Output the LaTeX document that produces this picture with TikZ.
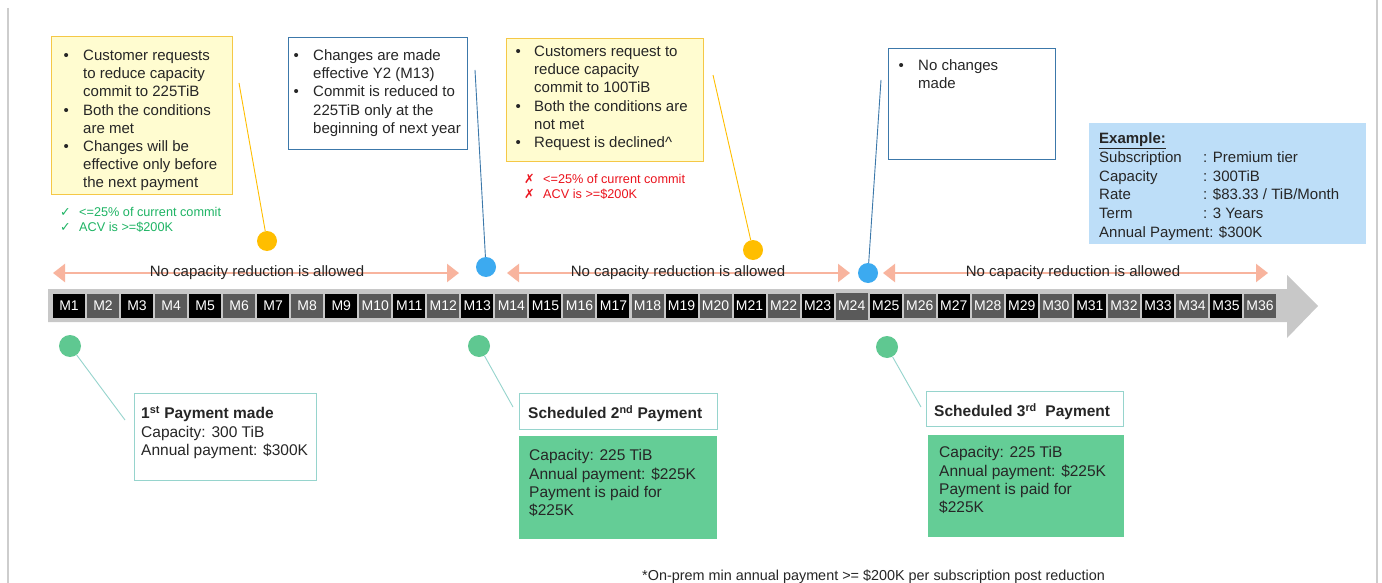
\documentclass[tikz,border=0pt]{standalone}
\usepackage{fontspec}
\setmainfont{Liberation Sans}
\newfontfamily\symfont{DejaVu Sans}
\usepackage{xcolor}
\usetikzlibrary{positioning,arrows.meta}

\definecolor{notefill}{RGB}{255,252,208}
\definecolor{notedraw}{RGB}{245,200,70}
\definecolor{bluedraw}{RGB}{60,120,170}
\definecolor{exfill}{RGB}{189,222,248}
\definecolor{dotorange}{RGB}{255,190,0}
\definecolor{dotblue}{RGB}{60,170,240}
\definecolor{dotgreen}{RGB}{95,200,145}
\definecolor{payfill}{RGB}{100,205,150}
\definecolor{paydraw}{RGB}{150,212,205}
\definecolor{salmon}{RGB}{248,180,158}
\definecolor{band}{RGB}{200,200,200}
\definecolor{mgray}{RGB}{90,90,90}
\definecolor{okgreen}{RGB}{30,180,100}
\definecolor{nored}{RGB}{235,20,30}
\definecolor{edge}{RGB}{205,205,205}

\begin{document}
\begin{tikzpicture}[x=1pt,y=-1pt,
  box/.style={anchor=north west,inner sep=0pt,line width=0.9pt},
  txt/.style={anchor=base west,inner sep=0pt,text=black!85,
              font=\fontsize{15}{18.2}\selectfont},
  paytxt/.style={txt,font=\fontsize{15.5}{18.3}\selectfont},
  small/.style={anchor=base west,inner sep=0pt,font=\fontsize{12.7}{15}\selectfont},
  lbl/.style={inner sep=0pt,text=black!85,font=\fontsize{15}{18}\selectfont},
  dot/.style={circle,inner sep=0pt,minimum size=20pt},
  month/.style={inner sep=0pt,minimum width=32pt,text=white,
                font=\fontsize{14}{14}\selectfont},
  span/.style={{Triangle[length=12pt,width=18pt]}-{Triangle[length=12pt,width=18pt]},
               salmon,line width=2.2pt},
  lead/.style={line width=0.9pt}]
  \fill[white] (0,0) rectangle (1382,583);
  \useasboundingbox (0,0) rectangle (1382,583);
  \draw[edge,line width=1.5pt] (8,8) -- (8,583);
  \draw[edge,line width=1.5pt] (1377,0) -- (1377,583);

  % timeline
  \fill[band] (48,289) -- (1287,289) -- (1287,275) -- (1318,306)
              -- (1287,338) -- (1287,322) -- (48,322) -- cycle;
  \foreach \m in {1,...,36}{
    \pgfmathsetmacro\mx{69+(\m-1)*34.03}
    \pgfmathtruncatemacro\odd{mod(\m,2)}
    \ifnum\odd=1 \def\mc{black}\else\def\mc{mgray}\fi
    \ifnum\m=24 \def\mh{27pt}\else\def\mh{24pt}\fi
    \node[month,fill=\mc,minimum height=\mh] (m\m) at (\mx,306) {M\m};
  }

  % no reduction spans
  \coordinate (s1a) at (53,273);  \coordinate (s1b) at (459,273);
  \coordinate (s2a) at (507,273); \coordinate (s2b) at (850,273);
  \coordinate (s3a) at (883,273); \coordinate (s3b) at (1268,273);
  \draw[span] (s1a) -- (s1b);
  \draw[span] (s2a) -- (s2b);
  \draw[span] (s3a) -- (s3b);
  \node[lbl] (s1t) at (257,273) {No capacity reduction is allowed};
  \node[lbl] (s2t) at (678,273) {No capacity reduction is allowed};
  \node[lbl] (s3t) at (1073,273) {No capacity reduction is allowed};

  % top notes
  \node[box,draw=notedraw,fill=notefill,minimum width=181pt,minimum height=158pt] (req1) at (51,36) {};
  \node[txt] (req1t) at (63.5,60.5) {\begin{tabular}[t]{@{}p{19.5pt}@{}l@{}}
    \textbullet & Customer requests\\ & to reduce capacity\\ & commit to 225TiB\\
    \textbullet & Both the conditions\\ & are met\\
    \textbullet & Changes will be\\ & effective only before\\ & the next payment\end{tabular}};
  \node[small,text=okgreen] (ok1) at (60,216.5) {\begin{tabular}[t]{@{}p{19pt}@{}l@{}}
    {\symfont ✓} & <=25\% of current commit\\ {\symfont ✓} & ACV is >=\$200K\end{tabular}};

  \node[box,draw=bluedraw,minimum width=179pt,minimum height=112pt] (eff2) at (288,37) {};
  \node[txt] (eff2t) at (293.4,60.5) {\begin{tabular}[t]{@{}p{19.6pt}@{}l@{}}
    \textbullet & Changes are made\\ & effective Y2 (M13)\\
    \textbullet & Commit is reduced to\\ & 225TiB only at the\\ & beginning of next year\end{tabular}};

  \node[box,draw=notedraw,fill=notefill,minimum width=197pt,minimum height=123pt] (req3) at (506,38) {};
  \node[txt] (req3t) at (515.4,56.5) {\begin{tabular}[t]{@{}p{18.6pt}@{}l@{}}
    \textbullet & Customers request to\\ & reduce capacity\\ & commit to 100TiB\\
    \textbullet & Both the conditions are\\ & not met\\
    \textbullet & Request is declined\^{}\end{tabular}};
  \node[small,text=nored] (no3) at (524,183.6) {\begin{tabular}[t]{@{}p{19pt}@{}l@{}}
    {\symfont ✗} & <=25\% of current commit\\ {\symfont ✗} & ACV is >=\$200K\end{tabular}};

  \node[box,draw=bluedraw,minimum width=167pt,minimum height=111pt] (none4) at (888,48) {};
  \node[txt] (none4t) at (898.4,70.5) {\begin{tabular}[t]{@{}p{19.6pt}@{}l@{}}
    \textbullet & No changes\\ & made\end{tabular}};

  \node[box,fill=exfill,minimum width=277pt,minimum height=121pt] (ex) at (1089,123) {};
  \node[txt,font=\fontsize{15}{18.8}\selectfont] (ext) at (1099,143.5) {\begin{tabular}[t]{@{}p{104pt}@{}l@{}}
    \multicolumn{2}{@{}l@{}}{\textbf{\underline{Example:}}}\\
    Subscription & : Premium tier\\ Capacity & : 300TiB\\
    Rate & : \$83.33 / TiB/Month\\ Term & : 3 Years\\
    \multicolumn{2}{@{}l@{}}{Annual Payment: \$300K}\end{tabular}};

  % dots above the timeline
  \node[dot,fill=dotorange] (o1) at (267,241) {};
  \node[dot,fill=dotblue] (b2) at (486,267) {};
  \node[dot,fill=dotorange] (o3) at (753,250) {};
  \node[dot,fill=dotblue] (b4) at (868,273) {};
  \coordinate (o1e) at (239,83);
  \coordinate (b2e) at (475,70);
  \coordinate (o3e) at (713,75);
  \coordinate (b4e) at (881,80);
  \draw[lead,dotorange] (o1) -- (o1e);
  \draw[lead,bluedraw] (b2) -- (b2e);
  \draw[lead,dotorange] (o3) -- (o3e);
  \draw[lead,bluedraw] (b4) -- (b4e);

  % payments
  \node[dot,fill=dotgreen,minimum height=22pt] (g1) at (70,346) {};
  \node[dot,fill=dotgreen,minimum height=22pt] (g2) at (479,346) {};
  \node[dot,fill=dotgreen,minimum height=22pt] (g3) at (887,347) {};

  \node[box,draw=paydraw,minimum width=182pt,minimum height=87pt] (pay1) at (134,393) {};
  \node[paytxt] (pay1t) at (141,418.7) {\begin{tabular}[t]{@{}l@{}}
    \textbf{1\textsuperscript{st} Payment made}\\ Capacity: 300 TiB\\ Annual payment: \$300K\end{tabular}};

  \node[box,draw=paydraw,minimum width=198pt,minimum height=36pt] (pay2h) at (519,393) {};
  \node[paytxt] (pay2ht) at (528,418.5) {\textbf{Scheduled 2\textsuperscript{nd} Payment}};
  \node[box,fill=payfill,minimum width=198pt,minimum height=103pt] (pay2) at (519,436) {};
  \node[paytxt] (pay2t) at (529,460.7) {\begin{tabular}[t]{@{}l@{}}
    Capacity: 225 TiB\\ Annual payment: \$225K\\ Payment is paid for\\ \$225K\end{tabular}};

  \node[box,draw=paydraw,minimum width=197pt,minimum height=35pt] (pay3h) at (926,391) {};
  \node[paytxt] (pay3ht) at (934,416.5) {\textbf{Scheduled 3\textsuperscript{rd}\ \ Payment}};
  \node[box,fill=payfill,minimum width=196pt,minimum height=102pt] (pay3) at (928,435) {};
  \node[paytxt] (pay3t) at (939,457.7) {\begin{tabular}[t]{@{}l@{}}
    Capacity: 225 TiB\\ Annual payment: \$225K\\ Payment is paid for\\ \$225K\end{tabular}};

  \coordinate (pay1e) at (125,420);
  \coordinate (pay2e) at (513,407);
  \coordinate (pay3e) at (921,407);
  \draw[lead,paydraw] (g1) -- (pay1e);
  \draw[lead,paydraw] (g2) -- (pay2e);
  \draw[lead,paydraw] (g3) -- (pay3e);

  \node[anchor=base west,inner sep=0pt,text=black!85,font=\fontsize{14.4}{16}\selectfont] (foot)
    at (642,580) {*On-prem min annual payment >= \$200K per subscription post reduction};
\end{tikzpicture}
\end{document}
